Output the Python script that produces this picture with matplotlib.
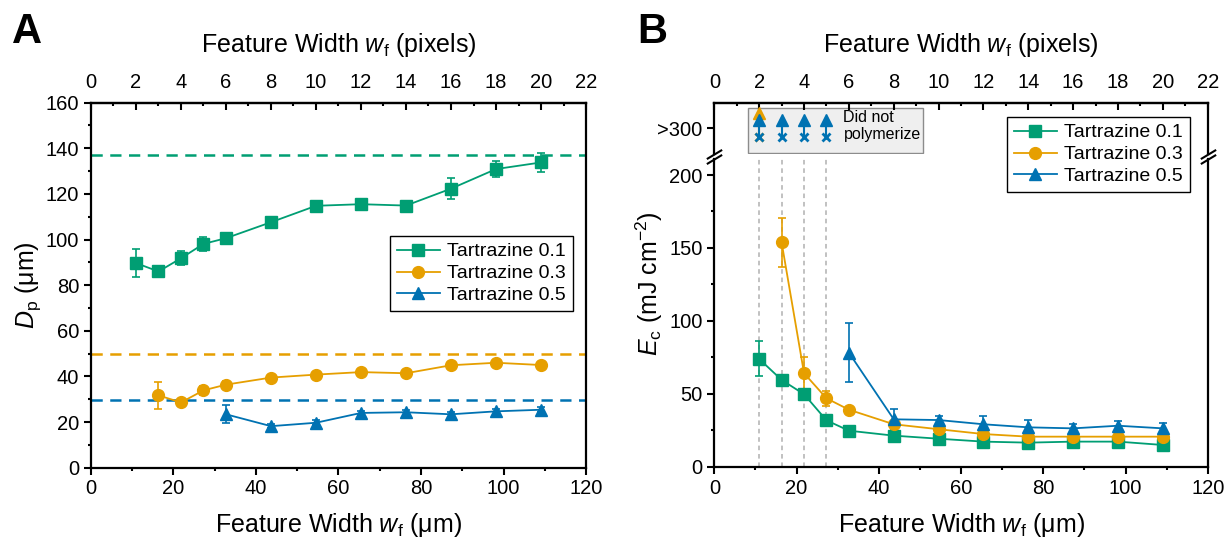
import numpy as np
import matplotlib
matplotlib.use("Agg")
import matplotlib.pyplot as plt
from matplotlib.ticker import MultipleLocator, FixedLocator
from matplotlib.patches import Rectangle

plt.rcParams['font.family'] = ['Liberation Sans', 'DejaVu Sans']
plt.rcParams['mathtext.fontset'] = 'custom'
plt.rcParams['mathtext.rm'] = 'Liberation Sans'
plt.rcParams['mathtext.it'] = 'Liberation Sans:italic'

# feature widths (pixels) and conversion to um (22 px = 120 um)
UM_PER_PX = 120 / 22
px_01 = [2, 3, 4, 5, 6, 8, 10, 12, 14, 16, 18, 20]
px_03 = [3, 4, 5, 6, 8, 10, 12, 14, 16, 18, 20]
px_05 = [6, 8, 10, 12, 14, 16, 18, 20]

# panel A: penetration depth Dp (um)
dp_01 = [89.7, 86.0, 91.8, 98.1, 100.6, 107.6, 114.8, 115.5, 114.9, 122.3, 130.9, 133.8]
dp_01_err = [6.0, 2.5, 3.0, 3.0, 1.5, 1.5, 1.2, 1.2, 2.0, 4.5, 3.5, 4.3]
dp_03 = [31.7, 28.6, 33.9, 36.4, 39.5, 40.8, 41.9, 41.4, 44.9, 46.0, 45.0]
dp_03_err = [6.0, 1.5, 2.0, 1.5, 1.0, 1.0, 1.0, 1.0, 1.0, 1.0, 1.0]
dp_05 = [23.4, 18.2, 19.7, 24.0, 24.3, 23.4, 24.7, 25.4]
dp_05_err = [4.0, 1.0, 1.0, 1.0, 1.0, 1.0, 1.0, 1.0]
dp_ref = [137.0, 49.8, 29.6]

# panel B: critical energy Ec (mJ cm-2)
ec_01 = [73.9, 59.5, 49.7, 31.8, 24.7, 21.3, 19.2, 17.2, 16.5, 17.2, 17.2, 14.9]
ec_01_err = [12.0, 2.0, 2.0, 2.0, 1.5, 1.5, 1.0, 1.0, 1.0, 1.0, 1.0, 1.0]
ec_03 = [153.8, 64.1, 46.9, 39.1, 29.1, 25.7, 22.4, 20.6, 20.6, 20.6, 20.6]
ec_03_err = [17.0, 11.0, 5.0, 2.0, 2.0, 2.0, 2.0, 2.0, 2.0, 2.0, 2.0]
ec_05 = [78.2, 32.5, 32.0, 29.1, 27.0, 26.3, 28.1, 26.3]
ec_05_err = [20.0, 7.0, 3.0, 6.0, 5.0, 3.0, 3.0, 4.0]

# widths that did not polymerize (shown as >300)
dnp_px_03 = [2]
dnp_px_05 = [2, 3, 4, 5]

labels = ['Tartrazine 0.1', 'Tartrazine 0.3', 'Tartrazine 0.5']
colors = ['#009E73', '#E69F00', '#0072B2']
markers = ['s', 'o', '^']

TICK_FS = 14.5
LABEL_FS = 18
LEG_FS = 14


def to_um(px):
    return np.asarray(px) * UM_PER_PX


def style_axis(ax):
    for s in ax.spines.values():
        s.set_linewidth(1.6)
    ax.tick_params(which='major', direction='out', length=5, width=1.5, labelsize=TICK_FS)
    ax.tick_params(which='minor', direction='out', length=2.5, width=1.5)
    ax.tick_params(axis='y', which='both', right=False)
    ax.tick_params(axis='x', which='both', top=False)


def add_px_axis(ax):
    sec = ax.secondary_xaxis('top', functions=(lambda x: x / UM_PER_PX, lambda x: x * UM_PER_PX))
    sec.set_xticks(np.arange(0, 23, 2))
    sec.xaxis.set_minor_locator(MultipleLocator(1))
    sec.tick_params(which='major', direction='in', length=5, width=1.5, labelsize=TICK_FS, pad=8)
    sec.tick_params(which='minor', direction='in', length=2.5, width=1.5)
    sec.spines['top'].set_linewidth(1.6)
    return sec


def draw_series(ax, px, y, err):
    handles = []
    for (p, v, e), c, m in zip(zip(px, y, err), colors, markers):
        h = ax.errorbar(to_um(p), v, yerr=e, color=c, marker=m, markersize=8.5, lw=1.3,
                        capsize=3, elinewidth=1.2, capthick=1.2)
        handles.append(h)
    return handles


def add_legend(handles, anchor):
    leg = fig.legend([h[0] for h in handles], labels, loc='upper right', bbox_to_anchor=anchor,
                     fontsize=LEG_FS, frameon=True, fancybox=False, edgecolor='black',
                     framealpha=1, borderpad=0.35, labelspacing=0.22, handlelength=2.2,
                     handletextpad=0.4, borderaxespad=0)
    leg.get_frame().set_linewidth(1.0)


fig = plt.figure(figsize=(12.28, 5.43), dpi=100)
top_label_y = 1 - 45 / 543

# ---------------- panel A ----------------
axA = fig.add_axes([0.0741, 0.1387, 0.4031, 0.6722])
style_axis(axA)
for v, c in zip(dp_ref, colors):
    axA.axhline(v, color=c, lw=1.8, dashes=(4.5, 3))
hA = draw_series(axA, [px_01, px_03, px_05], [dp_01, dp_03, dp_05], [dp_01_err, dp_03_err, dp_05_err])
axA.set_xlim(0, 120)
axA.set_ylim(0, 160)
axA.xaxis.set_major_locator(MultipleLocator(20))
axA.xaxis.set_minor_locator(MultipleLocator(10))
axA.yaxis.set_major_locator(MultipleLocator(20))
axA.yaxis.set_minor_locator(MultipleLocator(10))
axA.set_xlabel(r'Feature Width $w_{\rm f}$ ($\mathrm{\mu}$m)', fontsize=LABEL_FS, va='center')
axA.xaxis.set_label_coords(0.5, -0.157)
axA.set_ylabel(r'$D_{\rm p}$ ($\mathrm{\mu}$m)', fontsize=LABEL_FS, va='center')
axA.yaxis.set_label_coords(-0.127, 0.5)
add_px_axis(axA)
fig.text(0.0741 + 0.4031 / 2, top_label_y, r'Feature Width $w_{\rm f}$ (pixels)',
         ha='center', va='center', fontsize=LABEL_FS)
add_legend(hA, (573 / 1228, 1 - 236 / 543))

# ---------------- panel B ----------------
axB = fig.add_axes([0.5817, 0.1405, 0.4018, 0.5667])
axT = fig.add_axes([0.5817, 0.7164, 0.4018, 0.0945], sharex=axB)
style_axis(axB)
style_axis(axT)
axB.spines['top'].set_visible(False)
axT.spines['bottom'].set_visible(False)
axT.tick_params(axis='x', which='both', bottom=False, labelbottom=False)

for p in dnp_px_05:
    axB.axvline(to_um(p), color='#b0b0b0', lw=1.1, dashes=(3, 2.5), zorder=0)
hB = draw_series(axB, [px_01, px_03, px_05], [ec_01, ec_03, ec_05], [ec_01_err, ec_03_err, ec_05_err])
axB.set_xlim(0, 120)
axB.set_ylim(0, 211)
axB.xaxis.set_major_locator(MultipleLocator(20))
axB.xaxis.set_minor_locator(MultipleLocator(10))
axB.yaxis.set_major_locator(FixedLocator([0, 50, 100, 150, 200]))
axB.yaxis.set_minor_locator(FixedLocator([25, 75, 125, 175]))
axB.set_xlabel(r'Feature Width $w_{\rm f}$ ($\mathrm{\mu}$m)', fontsize=LABEL_FS, va='center')
axB.xaxis.set_label_coords(0.5, -0.188)
axB.set_ylabel(r'$E_{\rm c}$ (mJ cm$^{-2}$)', fontsize=LABEL_FS, va='center')
axB.yaxis.set_label_coords(-0.132, 0.594)

# upper (broken) part: >300, did not polymerize
axT.set_ylim(270, 330)
axT.set_yticks([300])
axT.set_yticklabels(['>300'])
axT.yaxis.set_minor_locator(FixedLocator([]))
axT.add_patch(Rectangle((8.3, 0.01), 42.5, 0.89, transform=axT.get_xaxis_transform(),
                        facecolor='#efefef', edgecolor='#8c8c8c', lw=1.0, zorder=0))
axT.text(31.4, 0.55, 'Did not\npolymerize', transform=axT.get_xaxis_transform(),
         ha='left', va='center', fontsize=11.5, linespacing=1.15)
for px_list, c, top in [(dnp_px_03, colors[1], 318), (dnp_px_05, colors[2], 309.5)]:
    x = to_um(px_list)
    axT.vlines(x, 290, top, color=c, lw=1.5)
    axT.plot(x, [top] * len(x), ls='none', marker='^', color=c, markersize=8)
    axT.plot(x, [290] * len(x), ls='none', marker='x', color=c, markersize=6, mew=2)
add_px_axis(axT)
fig.text(0.5817 + 0.4018 / 2, top_label_y, r'Feature Width $w_{\rm f}$ (pixels)',
         ha='center', va='center', fontsize=LABEL_FS)

# break marks
kw = dict(marker=[(-1, -0.6), (1, 0.6)], markersize=11, linestyle='none', color='k',
          mec='k', mew=1.5, clip_on=False)
axT.plot([0, 1], [0, 0], transform=axT.transAxes, **kw)
axB.plot([0, 1], [1, 1], transform=axB.transAxes, **kw)

add_legend(hB, (1190 / 1228, 1 - 117 / 543))

fig.text(11.7 / 1228, 1 - 43 / 543, 'A', fontsize=30, fontweight='bold', va='baseline')
fig.text(637 / 1228, 1 - 43 / 543, 'B', fontsize=30, fontweight='bold', va='baseline')

fig.savefig('out.png', dpi=100)
